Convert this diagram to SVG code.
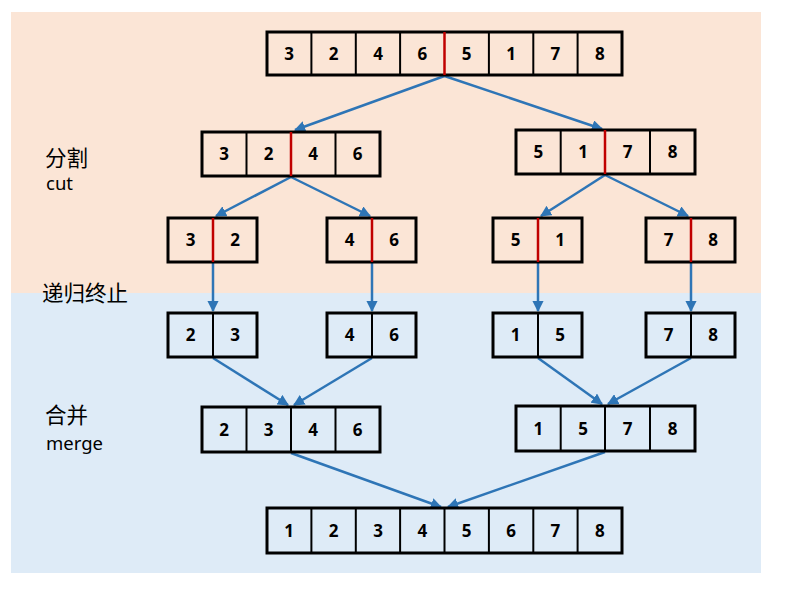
<svg xmlns="http://www.w3.org/2000/svg" width="795" height="596" viewBox="0 0 795 596">
<style>
.cell{fill:none;stroke:#000;stroke-width:3}
.div{stroke:#000;stroke-width:2}
.red{stroke:#C00000;stroke-width:2.5}
.n{font-family:"Open Sans","Liberation Sans",sans-serif;font-weight:bold;font-size:17px;text-anchor:middle;fill:#000}
.lbl{font-family:"Noto Sans CJK SC","Noto Sans",sans-serif;font-size:21.5px;fill:#000}
.lat{font-family:"Noto Sans","Noto Sans CJK SC",sans-serif;font-size:18.5px;fill:#000}
.arr{stroke:#2E75B6;stroke-width:2.5;fill:none;marker-end:url(#ah)}
</style>
<defs>
<marker id="ah" viewBox="0 0 10 10" refX="9" refY="5" markerWidth="4.5" markerHeight="4.5" orient="auto" markerUnits="strokeWidth">
<path d="M0,0 L10,5 L0,10 z" fill="#2E75B6"/>
</marker>
</defs>
<rect x="11" y="12" width="750" height="281" fill="#FBE5D6"/>
<rect x="11" y="293" width="750" height="280" fill="#DEEBF7"/>

<g id="labels">
<text class="lbl" x="45" y="166">分割</text>
<text class="lat" x="46" y="190">cut</text>
<text class="lbl" x="42" y="301">递归终止</text>
<text class="lbl" x="45" y="423">合并</text>
<text class="lat" x="46" y="450">merge</text>
</g>

<g id="connectors">
<line class="arr" x1="444.5" y1="76" x2="295" y2="130"/>
<line class="arr" x1="444.5" y1="76" x2="602" y2="129"/>
<line class="arr" x1="291" y1="177" x2="216" y2="216"/>
<line class="arr" x1="291" y1="177" x2="370" y2="216"/>
<line class="arr" x1="605" y1="175" x2="541" y2="216"/>
<line class="arr" x1="605" y1="175" x2="688" y2="216"/>
<line class="arr" x1="213" y1="263" x2="213" y2="311"/>
<line class="arr" x1="372" y1="263" x2="372" y2="311"/>
<line class="arr" x1="538" y1="263" x2="538" y2="311"/>
<line class="arr" x1="691" y1="263" x2="691" y2="311"/>
<line class="arr" x1="213" y1="358" x2="288" y2="405"/>
<line class="arr" x1="372" y1="358" x2="294" y2="405"/>
<line class="arr" x1="538" y1="358" x2="602" y2="404"/>
<line class="arr" x1="691" y1="358" x2="608" y2="404"/>
<line class="arr" x1="291" y1="453" x2="441" y2="507"/>
<line class="arr" x1="605" y1="452" x2="448" y2="507"/>
</g>

<g id="row1">
<rect class="cell" x="267" y="32" width="355" height="43"/>
<line class="div" x1="311.4" y1="32" x2="311.4" y2="75"/>
<line class="div" x1="355.8" y1="32" x2="355.8" y2="75"/>
<line class="div" x1="400.1" y1="32" x2="400.1" y2="75"/>
<line class="red" x1="444.5" y1="32" x2="444.5" y2="75"/>
<line class="div" x1="488.9" y1="32" x2="488.9" y2="75"/>
<line class="div" x1="533.3" y1="32" x2="533.3" y2="75"/>
<line class="div" x1="577.6" y1="32" x2="577.6" y2="75"/>
<text class="n" x="289.2" y="60">3</text><text class="n" x="333.6" y="60">2</text><text class="n" x="378" y="60">4</text><text class="n" x="422.3" y="60">6</text><text class="n" x="466.7" y="60">5</text><text class="n" x="511.1" y="60">1</text><text class="n" x="555.4" y="60">7</text><text class="n" x="599.8" y="60">8</text>
</g>

<g id="row2-left">
<rect class="cell" x="202" y="132" width="178" height="44"/>
<line class="div" x1="246.5" y1="132" x2="246.5" y2="176"/>
<line class="red" x1="291" y1="132" x2="291" y2="176"/>
<line class="div" x1="335.5" y1="132" x2="335.5" y2="176"/>
<text class="n" x="224.2" y="160">3</text><text class="n" x="268.7" y="160">2</text><text class="n" x="313.2" y="160">4</text><text class="n" x="357.7" y="160">6</text>
</g>

<g id="row2-right">
<rect class="cell" x="516" y="130" width="179" height="44"/>
<line class="div" x1="560.7" y1="130" x2="560.7" y2="174"/>
<line class="red" x1="605" y1="130" x2="605" y2="174"/>
<line class="div" x1="650" y1="130" x2="650" y2="174"/>
<text class="n" x="538.4" y="158">5</text><text class="n" x="583" y="158">1</text><text class="n" x="627.5" y="158">7</text><text class="n" x="672.5" y="158">8</text>
</g>

<g id="row3-a">
<rect class="cell" x="168" y="218" width="89" height="44"/>
<line class="red" x1="213" y1="218" x2="213" y2="262"/>
<text class="n" x="190.5" y="246">3</text><text class="n" x="235" y="246">2</text>
</g>
<g id="row3-b">
<rect class="cell" x="327" y="218" width="89" height="44"/>
<line class="red" x1="372" y1="218" x2="372" y2="262"/>
<text class="n" x="349.5" y="246">4</text><text class="n" x="394" y="246">6</text>
</g>
<g id="row3-c">
<rect class="cell" x="493" y="218" width="89" height="44"/>
<line class="red" x1="538" y1="218" x2="538" y2="262"/>
<text class="n" x="515.5" y="246">5</text><text class="n" x="560" y="246">1</text>
</g>
<g id="row3-d">
<rect class="cell" x="646" y="218" width="89" height="44"/>
<line class="red" x1="691" y1="218" x2="691" y2="262"/>
<text class="n" x="668.5" y="246">7</text><text class="n" x="713" y="246">8</text>
</g>

<g id="row4-a">
<rect class="cell" x="168" y="313" width="89" height="44"/>
<line class="div" x1="213" y1="313" x2="213" y2="357"/>
<text class="n" x="190.5" y="341">2</text><text class="n" x="235" y="341">3</text>
</g>
<g id="row4-b">
<rect class="cell" x="327" y="313" width="89" height="44"/>
<line class="div" x1="372" y1="313" x2="372" y2="357"/>
<text class="n" x="349.5" y="341">4</text><text class="n" x="394" y="341">6</text>
</g>
<g id="row4-c">
<rect class="cell" x="493" y="313" width="89" height="44"/>
<line class="div" x1="538" y1="313" x2="538" y2="357"/>
<text class="n" x="515.5" y="341">1</text><text class="n" x="560" y="341">5</text>
</g>
<g id="row4-d">
<rect class="cell" x="646" y="313" width="89" height="44"/>
<line class="div" x1="691" y1="313" x2="691" y2="357"/>
<text class="n" x="668.5" y="341">7</text><text class="n" x="713" y="341">8</text>
</g>

<g id="row5-left">
<rect class="cell" x="202" y="407" width="178" height="45"/>
<line class="div" x1="246.5" y1="407" x2="246.5" y2="452"/>
<line class="div" x1="291" y1="407" x2="291" y2="452"/>
<line class="div" x1="335.5" y1="407" x2="335.5" y2="452"/>
<text class="n" x="224.2" y="436">2</text><text class="n" x="268.7" y="436">3</text><text class="n" x="313.2" y="436">4</text><text class="n" x="357.7" y="436">6</text>
</g>

<g id="row5-right">
<rect class="cell" x="516" y="406" width="179" height="45"/>
<line class="div" x1="560.7" y1="406" x2="560.7" y2="451"/>
<line class="div" x1="605" y1="406" x2="605" y2="451"/>
<line class="div" x1="650" y1="406" x2="650" y2="451"/>
<text class="n" x="538.4" y="435">1</text><text class="n" x="583" y="435">5</text><text class="n" x="627.5" y="435">7</text><text class="n" x="672.5" y="435">8</text>
</g>

<g id="row6">
<rect class="cell" x="267" y="508" width="355" height="45"/>
<line class="div" x1="311.4" y1="508" x2="311.4" y2="553"/>
<line class="div" x1="355.8" y1="508" x2="355.8" y2="553"/>
<line class="div" x1="400.1" y1="508" x2="400.1" y2="553"/>
<line class="div" x1="444.5" y1="508" x2="444.5" y2="553"/>
<line class="div" x1="488.9" y1="508" x2="488.9" y2="553"/>
<line class="div" x1="533.3" y1="508" x2="533.3" y2="553"/>
<line class="div" x1="577.6" y1="508" x2="577.6" y2="553"/>
<text class="n" x="289.2" y="537">1</text><text class="n" x="333.6" y="537">2</text><text class="n" x="378" y="537">3</text><text class="n" x="422.3" y="537">4</text><text class="n" x="466.7" y="537">5</text><text class="n" x="511.1" y="537">6</text><text class="n" x="555.4" y="537">7</text><text class="n" x="599.8" y="537">8</text>
</g>
</svg>
